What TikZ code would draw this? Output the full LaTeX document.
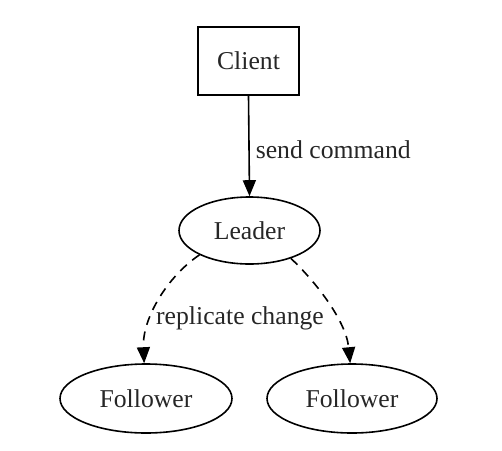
\documentclass[tikz,border=0pt]{standalone}
\usepackage{fontspec}
\setmainfont{Liberation Serif}
\usetikzlibrary{shapes.geometric,arrows.meta}
\begin{document}
\begin{tikzpicture}[x=1pt,y=-1pt,
  every node/.style={font=\fontsize{25.7}{30}\selectfont, text=black!85},
  boxnode/.style={draw, line width=1.6pt, minimum width=101pt, minimum height=68pt, inner sep=0pt},
  ellnode/.style={draw, ellipse, line width=1.6pt, inner sep=0pt},
  edge/.style={line width=1.6pt, -{Triangle[length=16pt,width=13pt]}},
  dashedge/.style={edge, dash pattern=on 9pt off 7pt},
  lbl/.style={inner sep=0pt}
]
\useasboundingbox (0,0) rectangle (502,450);
\node[boxnode] (client) at (248.5,61) {Client};
\node[ellnode, minimum width=141pt, minimum height=67pt] (leader) at (249.5,230.5) {Leader};
\node[ellnode, minimum width=172pt, minimum height=69pt] (f1) at (146,398.5) {Follower};
\node[ellnode, minimum width=170pt, minimum height=69pt] (f2) at (352,398.5) {Follower};
\draw[edge] (client.south) -- node[right, inner sep=6pt, yshift=-4pt] (sc) {send command} (leader.north);
\draw[dashedge] (leader.206) .. controls (168,276) and (142,318) .. (f1.93);
\draw[dashedge] (leader.326) .. controls (314,280) and (346,320) .. (f2.93);
\node[lbl] (rc) at (240,318) {replicate change};
\end{tikzpicture}
\end{document}
